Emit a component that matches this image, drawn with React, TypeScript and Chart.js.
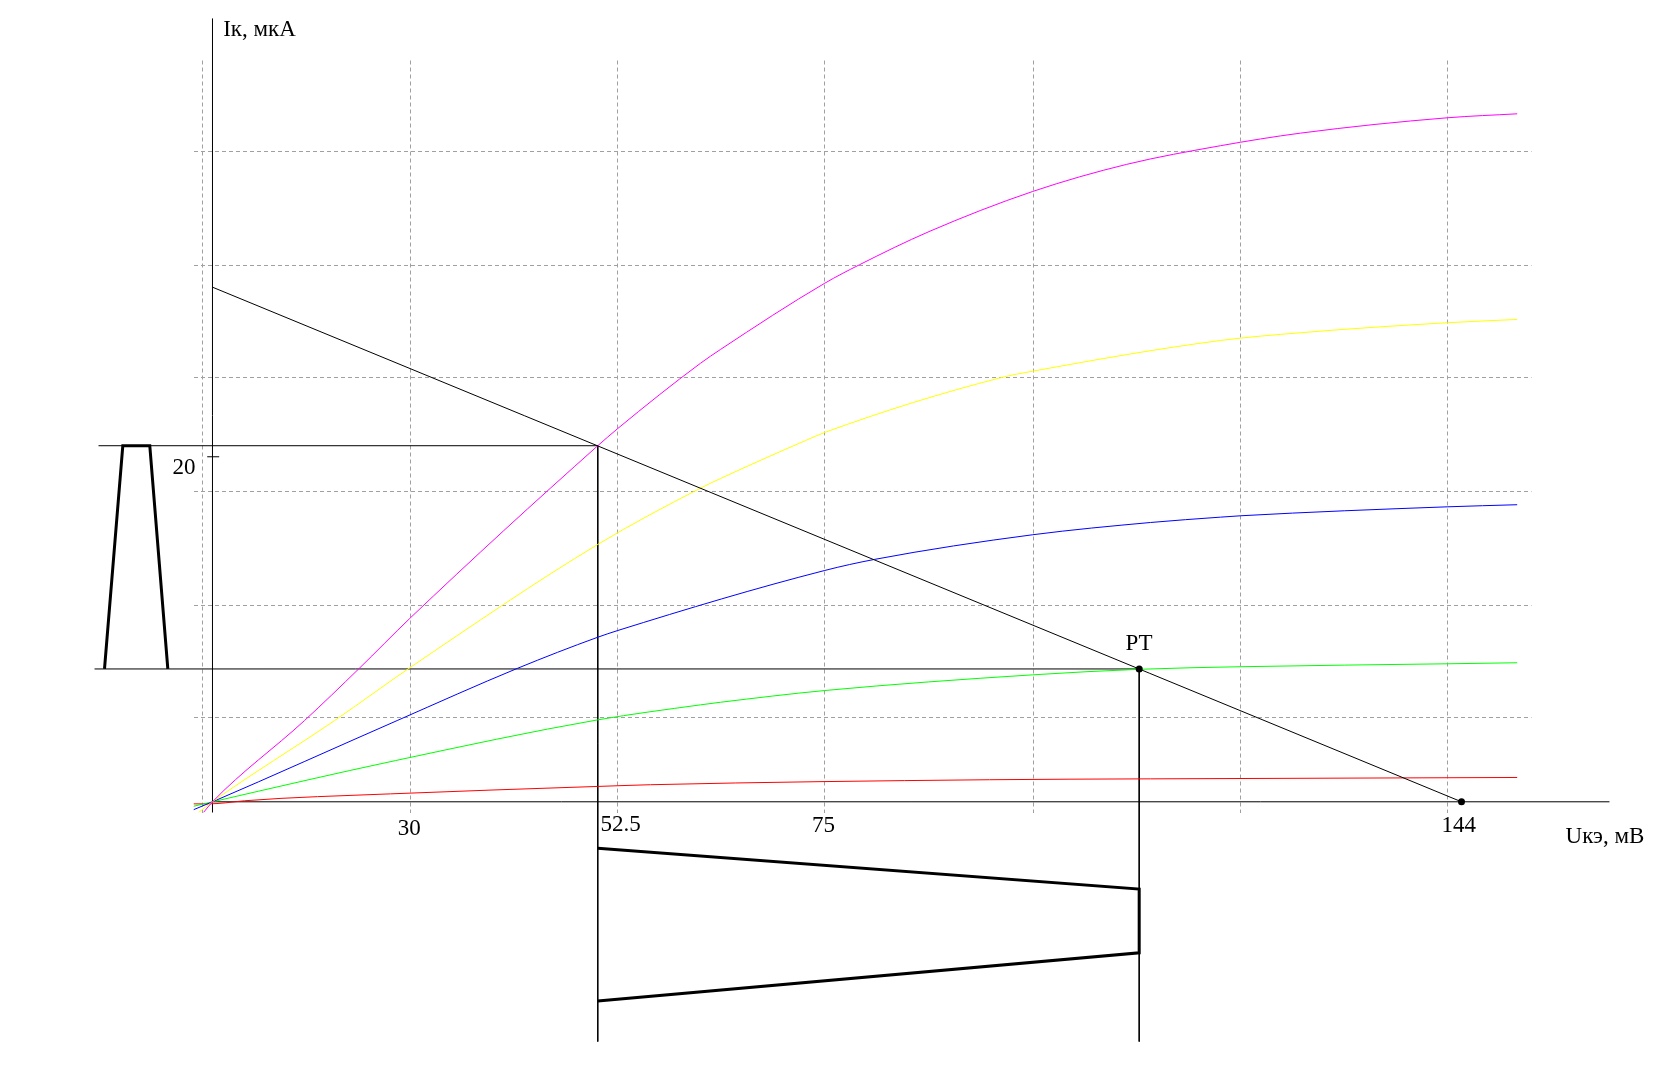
import { useEffect, useRef } from 'react';
import { Chart, registerables } from 'chart.js';

Chart.register(...registerables);

// Axis ranges: x — Uкэ, мВ ; y — Iк, мкА
const X_MIN = -2.19;
const X_MAX = 152.07;
const Y_MIN = -0.62;
const Y_MAX = 42.97;

// dashed grid positions (axis units)
const gridX = [-1.1, 22.8, 46.7, 70.6, 94.6, 118.5, 142.4];
const gridY = [4.9, 11.4, 18.0, 24.6, 31.1, 37.7];

// output characteristics Iк(Uкэ) for several base currents
const curveMagenta = [
  [-1.04, -0.62], [0, 0], [10.61, 4.71], [16.91, 7.73], [22.75, 10.63], [44.42, 20.64],
  [46.73, 21.64], [56.26, 25.42], [58.57, 26.22], [70.59, 30.06], [74.59, 31.13], [82.6, 33.05],
  [94.57, 35.38], [105.4, 36.95], [116.21, 38.03], [125.44, 38.76], [142.38, 39.65], [150.42, 39.88],
];
const curveYellow = [
  [-1.61, -0.62], [0, 0], [14.07, 4.71], [22.75, 7.77], [44.42, 14.92], [56.26, 18.18],
  [58.57, 18.74], [68.37, 20.94], [70.59, 21.41], [90.85, 24.58], [94.57, 24.96],
  [116.21, 26.74], [125.44, 27.19], [142.38, 27.77], [150.42, 27.96],
];
const curveBlue = [
  [-2.19, -0.46], [0, 0], [21.29, 4.71], [35.13, 7.73], [44.42, 9.54], [46.73, 9.93],
  [70.59, 13.41], [76.32, 14.05], [94.57, 15.48],
  [108.15, 16.19], [116.21, 16.5], [118.55, 16.58], [142.42, 17.1], [150.42, 17.22],
];
const curveGreen = [
  [-2.19, -0.26], [0, 0], [21.1, 2.39], [44.42, 4.75], [56.26, 5.62], [58.57, 5.77],
  [70.59, 6.45], [94.57, 7.36], [106.84, 7.68], [118.55, 7.83], [142.42, 8.0], [150.42, 8.06],
];
const curveRed = [
  [-2.19, -0.12], [-0.46, -0.12], [1.5, -0.06], [3.69, 0.06], [20.52, 0.46], [44.39, 0.89],
  [50.5, 0.99], [89.58, 1.28], [108.15, 1.33], [150.42, 1.41],
];

// load line from Iк max (Uкэ = 0) to Eк = 144 мВ
const loadLine = [[0, 29.83], [144, 0]];

// operating point and supply point
const pointPT = [106.84, 7.7];
const pointEk = [144, 0];

// projection lines
const projIbMax = [[-13.14, 20.64], [44.42, 20.64]];
const projPT = [[-13.6, 7.7], [106.84, 7.7]];
const projULeft = [[44.42, 20.64], [44.42, -13.9]];
const projURight = [[106.84, 7.7], [106.84, -13.9]];

// input current pulse (left, listed right-to-left) and output voltage waveform (bottom)
const inputPulse = [[-5.15, 7.7], [-7.23, 20.64], [-10.34, 20.64], [-12.45, 7.7]];
const outputWave = [[44.42, -2.69], [106.84, -5.06], [106.84, -8.75], [44.42, -11.54]];

// drawn axes
const axisY = [[0, -0.62], [0, 45.41]];
const axisX = [[0, 0], [161.06, 0]];
const tick20 = [[-0.61, 20], [0.77, 20]];
const speck = [-5.98, 25.22];

// text labels
const labelTexts = ['Iк, мкА', '20', '30', '52.5', '75', '144', 'Uкэ, мВ', 'РТ'];
const labelX = [1.23, -1.96, 22.68, 44.73, 70.45, 143.69, 156.0, 105.26];
const labelY = [44.39, 19.01, -1.95, -1.72, -1.76, -1.76, -2.36, 8.81];
const labelAlign: CanvasTextAlign[] = ['left', 'right', 'center', 'left', 'center', 'center', 'left', 'left'];

const toXY = (arr: number[][]) => arr.map(([x, y]) => ({ x, y }));

export default function App() {
  const ref = useRef<HTMLCanvasElement>(null);

  useEffect(() => {
    const canvas = ref.current;
    if (!canvas) return;

    const line = (label: string, data: number[][], color: string, width: number, extra: any = {}) => ({
      label,
      data: toXY(data),
      borderColor: color,
      backgroundColor: color,
      borderWidth: width,
      showLine: true,
      pointRadius: 0,
      pointHoverRadius: 0,
      fill: false,
      tension: 0,
      ...extra,
    });
    const dot = (label: string, p: number[], r: number, color: string, extra: any = {}) => ({
      label,
      data: [{ x: p[0], y: p[1] }],
      showLine: false,
      pointRadius: r,
      pointHoverRadius: r,
      backgroundColor: color,
      borderColor: color,
      borderWidth: 0,
      clip: false,
      ...extra,
    });

    const textPlugin = {
      id: 'texts',
      afterDatasetsDraw(chart: any) {
        const { ctx } = chart;
        const xs = chart.scales.x;
        const ys = chart.scales.y;
        ctx.save();
        ctx.fillStyle = '#000';
        ctx.font = '23px "Liberation Serif", "Times New Roman", serif';
        ctx.textBaseline = 'alphabetic';
        labelTexts.forEach((t, i) => {
          ctx.textAlign = labelAlign[i];
          ctx.fillText(t, xs.getPixelForValue(labelX[i]), ys.getPixelForValue(labelY[i]));
        });
        ctx.restore();
      },
    };

    const smooth = { cubicInterpolationMode: 'monotone' };
    const free = { clip: false };

    const chart = new Chart(canvas, {
      type: 'scatter',
      data: {
        datasets: [
          dot('РТ', pointPT, 3.5, '#000'),
          dot('Eк', pointEk, 3.5, '#000'),
          dot('speck', speck, 1, '#444'),
          line('Нагрузочная прямая', loadLine, '#000', 1, free),
          line('Iб5', curveMagenta, '#ff00ff', 1, smooth),
          line('Iб4', curveYellow, '#ffff00', 1, smooth),
          line('Iб3', curveBlue, '#0000ff', 1, smooth),
          line('Iб2', curveGreen, '#00ff00', 1, smooth),
          line('Iб1', curveRed, '#ff0000', 1, smooth),
          line('projIbMax', projIbMax, '#000', 1, free),
          line('projPT', projPT, '#000', 1, free),
          line('projULeft', projULeft, '#000', 1, free),
          line('projURight', projURight, '#000', 1, free),
          line('inputPulse', inputPulse, '#000', 3, free),
          line('outputWave', outputWave, '#000', 3, free),
          line('axisY', axisY, '#000', 1, free),
          line('axisX', axisX, '#000', 1, free),
          line('tick20', tick20, '#000', 1, free),
        ],
      },
      options: {
        animation: false,
        responsive: false,
        devicePixelRatio: 1,
        events: [],
        layout: { padding: { left: 193.5, top: 60.5, right: 142.5, bottom: 279.5 } },
        plugins: { legend: { display: false }, tooltip: { enabled: false } },
        scales: {
          x: {
            type: 'linear',
            bounds: 'data',
            min: X_MIN,
            max: X_MAX,
            afterBuildTicks: (s: any) => {
              s.ticks = gridX.map((v) => ({ value: v }));
            },
            ticks: { display: false },
            grid: { color: '#a0a0a0', lineWidth: 1, drawTicks: false },
            border: { display: false, dash: [4, 3] },
          },
          y: {
            type: 'linear',
            bounds: 'data',
            min: Y_MIN,
            max: Y_MAX,
            afterBuildTicks: (s: any) => {
              s.ticks = gridY.map((v) => ({ value: v }));
            },
            ticks: { display: false },
            grid: { color: '#a0a0a0', lineWidth: 1, drawTicks: false },
            border: { display: false, dash: [4, 3] },
          },
        },
      } as any,
      plugins: [textPlugin],
    });

    return () => chart.destroy();
  }, []);

  return (
    <div style={{ position: 'fixed', left: 0, top: 0, width: 1674, height: 1092, background: '#fff' }}>
      <canvas ref={ref} width={1674} height={1092} style={{ display: 'block' }} />
    </div>
  );
}
